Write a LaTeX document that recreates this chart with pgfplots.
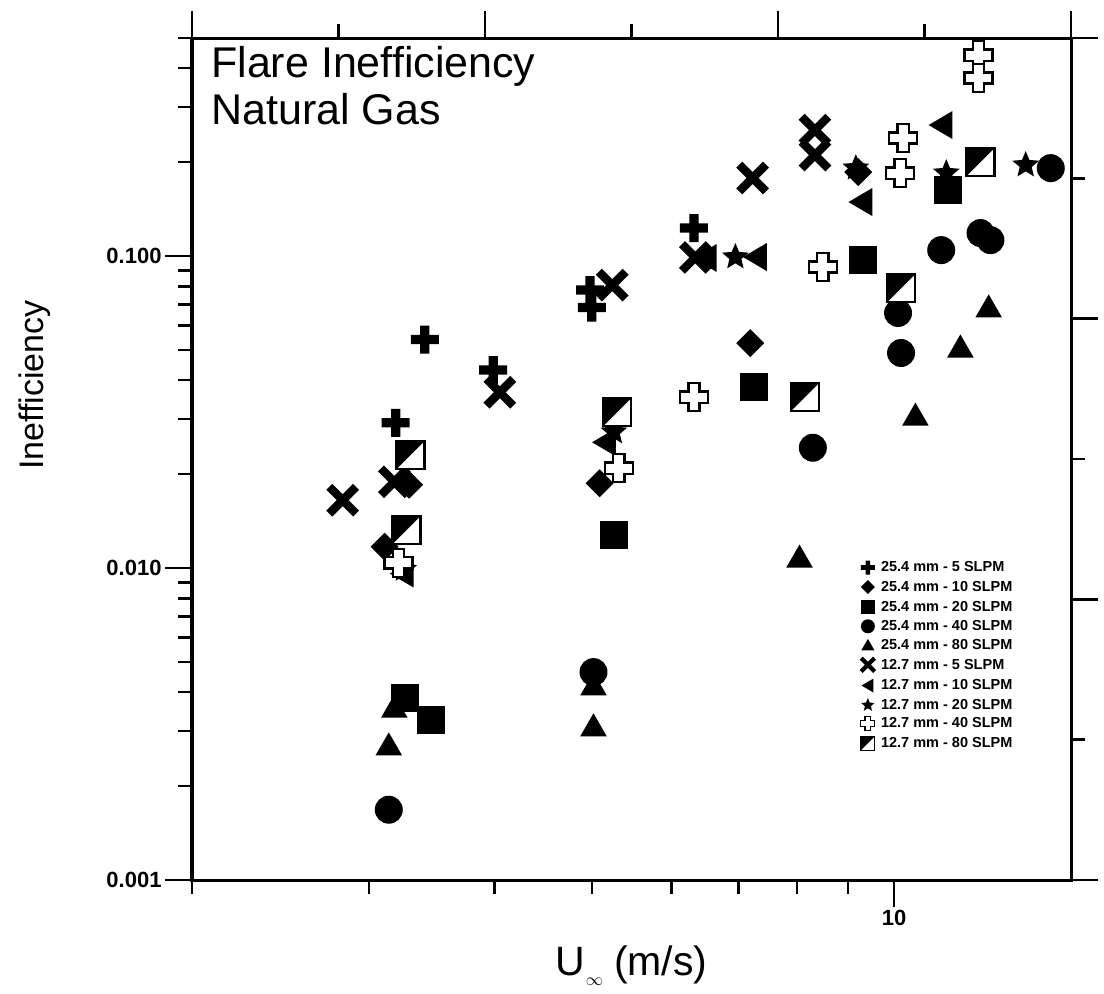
\documentclass[border=0pt]{standalone}
\usepackage{pgfplots}
\pgfplotsset{compat=1.18}
\usepackage{fontspec}
\setmainfont{Liberation Sans}
\usetikzlibrary{plotmarks}

\pgfdeclareplotmark{fatplus}{%
  \pgfpathrectangle{\pgfpoint{-\pgfplotmarksize}{-0.33\pgfplotmarksize}}{\pgfpoint{2\pgfplotmarksize}{0.66\pgfplotmarksize}}%
  \pgfpathrectangle{\pgfpoint{-0.33\pgfplotmarksize}{-\pgfplotmarksize}}{\pgfpoint{0.66\pgfplotmarksize}{2\pgfplotmarksize}}%
  \pgfusepathqfill}
\pgfdeclareplotmark{fatx}{%
  \pgftransformrotate{45}%
  \pgfpathrectangle{\pgfpoint{-1.35\pgfplotmarksize}{-0.3\pgfplotmarksize}}{\pgfpoint{2.7\pgfplotmarksize}{0.6\pgfplotmarksize}}%
  \pgfpathrectangle{\pgfpoint{-0.3\pgfplotmarksize}{-1.35\pgfplotmarksize}}{\pgfpoint{0.6\pgfplotmarksize}{2.7\pgfplotmarksize}}%
  \pgfusepathqfill}
\pgfdeclareplotmark{opencross}{%
  \pgfsetlinewidth{0.17\pgfplotmarksize}%
  \pgfsetfillcolor{white}\pgfsetstrokecolor{black}%
  \pgfpathmoveto{\pgfpoint{-0.4\pgfplotmarksize}{\pgfplotmarksize}}%
  \pgfpathlineto{\pgfpoint{0.4\pgfplotmarksize}{\pgfplotmarksize}}%
  \pgfpathlineto{\pgfpoint{0.4\pgfplotmarksize}{0.4\pgfplotmarksize}}%
  \pgfpathlineto{\pgfpoint{\pgfplotmarksize}{0.4\pgfplotmarksize}}%
  \pgfpathlineto{\pgfpoint{\pgfplotmarksize}{-0.4\pgfplotmarksize}}%
  \pgfpathlineto{\pgfpoint{0.4\pgfplotmarksize}{-0.4\pgfplotmarksize}}%
  \pgfpathlineto{\pgfpoint{0.4\pgfplotmarksize}{-\pgfplotmarksize}}%
  \pgfpathlineto{\pgfpoint{-0.4\pgfplotmarksize}{-\pgfplotmarksize}}%
  \pgfpathlineto{\pgfpoint{-0.4\pgfplotmarksize}{-0.4\pgfplotmarksize}}%
  \pgfpathlineto{\pgfpoint{-\pgfplotmarksize}{-0.4\pgfplotmarksize}}%
  \pgfpathlineto{\pgfpoint{-\pgfplotmarksize}{0.4\pgfplotmarksize}}%
  \pgfpathlineto{\pgfpoint{-0.4\pgfplotmarksize}{0.4\pgfplotmarksize}}%
  \pgfpathclose
  \pgfusepathqfillstroke}
\pgfdeclareplotmark{halfsq}{%
  \pgfsetlinewidth{0.15\pgfplotmarksize}%
  \pgfsetfillcolor{white}\pgfsetstrokecolor{black}%
  \pgfpathrectangle{\pgfpoint{-\pgfplotmarksize}{-\pgfplotmarksize}}{\pgfpoint{2\pgfplotmarksize}{2\pgfplotmarksize}}%
  \pgfusepathqfillstroke
  \pgfsetfillcolor{black}%
  \pgfpathmoveto{\pgfpoint{-\pgfplotmarksize}{-\pgfplotmarksize}}%
  \pgfpathlineto{\pgfpoint{-\pgfplotmarksize}{\pgfplotmarksize}}%
  \pgfpathlineto{\pgfpoint{\pgfplotmarksize}{\pgfplotmarksize}}%
  \pgfpathclose
  \pgfusepathqfill}
\pgfdeclareplotmark{fstar}{%
  \pgfpathmoveto{\pgfpointpolar{90}{\pgfplotmarksize}}%
  \pgfpathlineto{\pgfpointpolar{126}{0.45\pgfplotmarksize}}%
  \pgfpathlineto{\pgfpointpolar{162}{\pgfplotmarksize}}%
  \pgfpathlineto{\pgfpointpolar{198}{0.45\pgfplotmarksize}}%
  \pgfpathlineto{\pgfpointpolar{234}{\pgfplotmarksize}}%
  \pgfpathlineto{\pgfpointpolar{270}{0.45\pgfplotmarksize}}%
  \pgfpathlineto{\pgfpointpolar{306}{\pgfplotmarksize}}%
  \pgfpathlineto{\pgfpointpolar{342}{0.45\pgfplotmarksize}}%
  \pgfpathlineto{\pgfpointpolar{18}{\pgfplotmarksize}}%
  \pgfpathlineto{\pgfpointpolar{54}{0.45\pgfplotmarksize}}%
  \pgfpathclose
  \pgfusepathqfill}
\pgfdeclareplotmark{sqdiam}{%
  \pgfpathmoveto{\pgfpoint{0pt}{\pgfplotmarksize}}%
  \pgfpathlineto{\pgfpoint{\pgfplotmarksize}{0pt}}%
  \pgfpathlineto{\pgfpoint{0pt}{-\pgfplotmarksize}}%
  \pgfpathlineto{\pgfpoint{-\pgfplotmarksize}{0pt}}%
  \pgfpathclose
  \pgfusepathqfill}
\pgfdeclareplotmark{uptri}{%
  \pgfpathmoveto{\pgfpoint{0pt}{0.9\pgfplotmarksize}}%
  \pgfpathlineto{\pgfpoint{0.95\pgfplotmarksize}{-0.75\pgfplotmarksize}}%
  \pgfpathlineto{\pgfpoint{-0.95\pgfplotmarksize}{-0.75\pgfplotmarksize}}%
  \pgfpathclose
  \pgfusepathqfill}
\pgfdeclareplotmark{lefttri}{%
  \pgfpathmoveto{\pgfpoint{-0.9\pgfplotmarksize}{0pt}}%
  \pgfpathlineto{\pgfpoint{0.8\pgfplotmarksize}{\pgfplotmarksize}}%
  \pgfpathlineto{\pgfpoint{0.8\pgfplotmarksize}{-\pgfplotmarksize}}%
  \pgfpathclose
  \pgfusepathqfill}
\pgfdeclareplotmark{fsq}{%
  \pgfpathrectangle{\pgfpoint{-\pgfplotmarksize}{-\pgfplotmarksize}}{\pgfpoint{2\pgfplotmarksize}{2\pgfplotmarksize}}%
  \pgfusepathqfill}
\pgfdeclareplotmark{fcirc}{%
  \pgfpathcircle{\pgfpointorigin}{\pgfplotmarksize}%
  \pgfusepathqfill}

\pgfplotsset{
  mk/.style={only marks, mark=#1, mark size=14pt, mark options={fill=black, draw=black, solid}},
}

\begin{document}
\begin{tikzpicture}
\begin{axis}[
  at={(0pt,0pt)}, anchor=south west,
  scale only axis, width=879pt, height=842pt,
  xmode=log, ymode=log, xmin=2, xmax=15, ymin=0.001, ymax=0.5,
  tick pos=left, tick align=outside,
  xtick={10}, xticklabels={10},
  minor xtick={2,3,4,5,6,7,8,9},
  ytick={0.001,0.01,0.1}, yticklabels={0.001,0.010,0.100},
  minor ytick={0.002,0.003,0.004,0.005,0.006,0.007,0.008,0.009,0.02,0.03,0.04,0.05,0.06,0.07,0.08,0.09,0.2,0.3,0.4,0.5},
  major tick length=27pt, minor tick length=14pt,
  tick style={black, line width=2.5pt},
  axis line style={line width=3pt},
  tick label style={font=\bfseries\fontsize{22}{26}\selectfont},
  clip=false,
  legend cell align=left,
  legend style={draw=none, fill=none, at={(0.7594,0.3797)}, anchor=north west,
    font=\bfseries\fontsize{14.5}{16}\selectfont, inner sep=0pt, row sep=5.6pt, column sep=5pt,
    nodes={inner sep=0pt}},
  legend image post style={mark size=7pt},
]
\addplot[mk=fatplus] coordinates {(3.41,0.054) (3.19,0.0292) (3.99,0.0431) (4.98,0.0778) (5.00,0.0684) (6.32,0.123)};
\addlegendentry{25.4 mm - 5 SLPM}
\addplot[mk=sqdiam] coordinates {(3.29,0.0185) (3.11,0.0117) (5.09,0.0187) (7.19,0.0526) (9.21,0.1858)};
\addlegendentry{25.4 mm - 10 SLPM}
\addplot[mk=fsq] coordinates {(3.26,0.00383) (3.46,0.00326) (5.26,0.01276) (7.26,0.038) (9.31,0.0971) (11.32,0.1628)};
\addlegendentry{25.4 mm - 20 SLPM}
\addplot[mk=fcirc] coordinates {(3.14,0.00168) (5.02,0.00464) (8.30,0.0243) (10.16,0.0489) (10.09,0.0657) (11.14,0.1045) (12.19,0.1185) (12.47,0.1125) (14.32,0.1914)};
\addlegendentry{25.4 mm - 40 SLPM}
\addplot[mk=uptri] coordinates {(3.18,0.00358) (3.14,0.00271) (5.02,0.00422) (5.02,0.00312) (8.05,0.01084) (10.50,0.0309) (11.64,0.0511) (12.42,0.0687)};
\addlegendentry{25.4 mm - 80 SLPM}
\addplot[mk=fatx] coordinates {(2.825,0.0165) (3.18,0.0189) (4.05,0.0366) (5.24,0.0807) (6.34,0.099) (7.23,0.1779) (8.34,0.2535) (8.34,0.2107)};
\addlegendentry{12.7 mm - 5 SLPM}
\addplot[mk=lefttri] coordinates {(3.24,0.0096) (5.15,0.0253) (6.49,0.0986) (7.28,0.0993) (9.27,0.149) (11.14,0.263)};
\addlegendentry{12.7 mm - 10 SLPM}
\addplot[mk=fstar] coordinates {(3.25,0.0099) (5.26,0.0273) (6.95,0.0993) (9.16,0.1914) (11.27,0.1845) (13.52,0.1958)};
\addlegendentry{12.7 mm - 20 SLPM}
\addplot[mk=opencross] coordinates {(3.21,0.0104) (5.32,0.0209) (6.32,0.0353) (8.49,0.0922) (10.14,0.1845) (10.21,0.239) (12.13,0.4406) (12.13,0.372)};
\addlegendentry{12.7 mm - 40 SLPM}
\addplot[mk=halfsq] coordinates {(3.30,0.023) (3.27,0.01324) (5.30,0.0316) (8.15,0.0353) (10.16,0.0789) (12.19,0.2001)};
\addlegendentry{12.7 mm - 80 SLPM}
\end{axis}
\begin{axis}[
  at={(0pt,0pt)}, anchor=south west,
  scale only axis, width=879pt, height=842pt,
  xmin=0, xmax=6, ymin=0, ymax=6,
  tick pos=right, tick align=outside,
  xtick={0,2,4,6}, minor xtick={1,3,5},
  ytick={0,2,4,6}, minor ytick={1,3,5},
  xticklabels={}, yticklabels={},
  major tick length=27pt, minor tick length=14pt,
  tick style={black, line width=2.5pt},
  axis line style={line width=3pt},
]
\end{axis}
\node[anchor=base west, inner sep=0pt, font=\fontsize{43}{50}\selectfont] at (19pt,802pt) {Flare Inefficiency};
\node[anchor=base west, inner sep=0pt, font=\fontsize{43}{50}\selectfont] at (19pt,755pt) {Natural Gas};
\node[rotate=90, inner sep=0pt, font=\fontsize{34}{40}\selectfont] at (-157pt,495pt) {Inefficiency};
\node[anchor=base west, inner sep=0pt, font=\fontsize{41}{44}\selectfont] at (363pt,-95pt)
  {U\kern1pt\raisebox{-10pt}{\fontsize{17}{17}\selectfont$\infty$}\hspace{11pt}(m/s)};
\pgfresetboundingbox
\useasboundingbox (-192pt,-114pt) rectangle (912pt,880pt);
\end{tikzpicture}
\end{document}
